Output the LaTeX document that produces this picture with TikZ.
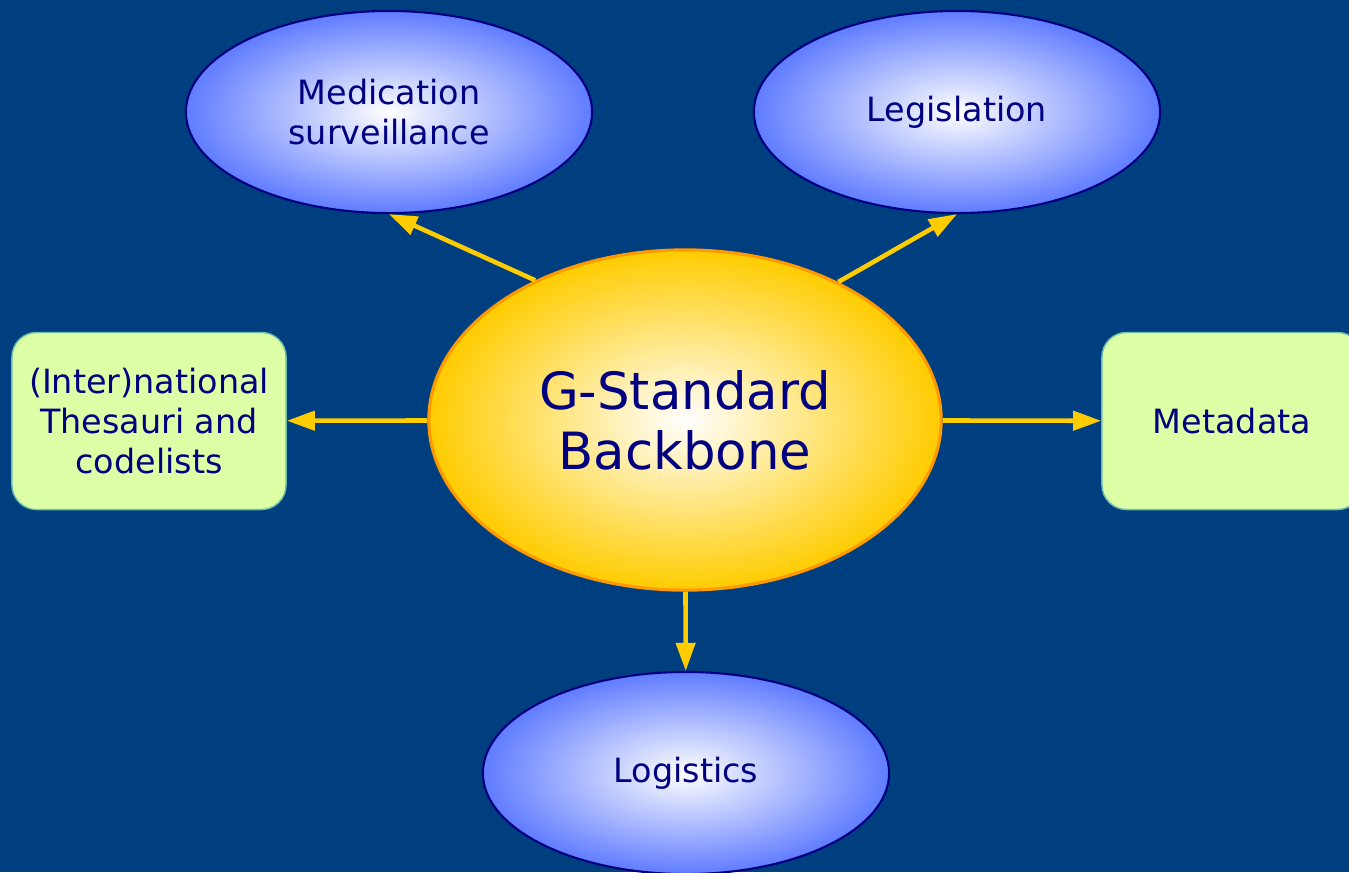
\documentclass[tikz,border=0pt]{standalone}
\usepackage{fontspec}
\setmainfont{DejaVu Sans}
\usetikzlibrary{arrows.meta,shapes.geometric}
\definecolor{bgblue}{RGB}{0,63,127}
\definecolor{txtblue}{RGB}{0,0,128}
\definecolor{gold}{RGB}{255,204,0}
\definecolor{rim}{RGB}{255,153,0}
\definecolor{skyblue}{RGB}{96,124,255}
\definecolor{lime}{RGB}{221,255,165}
\definecolor{limerim}{RGB}{110,190,170}
\begin{document}
\begin{tikzpicture}[x=0.01cm, y=-0.01cm, line join=round,
	>={Triangle[length=8pt,width=5.4pt]},
	font=\fontsize{9.5}{11.4}\selectfont, text=txtblue,
	core/.style={ellipse, draw=rim, line width=0.9pt, inner color=white, outer color=gold,
		minimum width=5.12cm, minimum height=3.40cm, align=center,
		font=\fontsize{14.6}{17}\selectfont},
	topic/.style={ellipse, draw=txtblue, line width=0.6pt, inner color=white, outer color=skyblue,
		minimum width=4.06cm, minimum height=2.02cm, align=center},
	side/.style={rectangle, rounded corners=7pt, draw=limerim, line width=0.4pt, fill=lime,
		minimum height=1.77cm, align=center},
	link/.style={->, draw=gold, line width=1.3pt}]
	\fill[bgblue] (0,0) rectangle (1349,872);
	\useasboundingbox (0,0) rectangle (1349,872);
	\path
	(685,420) node[core] (gsb) {G-Standard\\Backbone}
	(389,112) node[topic] (med) {Medication\\surveillance}
	(957,112) node[topic] (leg) {Legislation}
	(686,773) node[topic] (log) {Logistics}
	(149,421) node[side, minimum width=2.74cm] (thes) {(Inter)national\\Thesauri and\\codelists}
	(1232,421) node[side, minimum width=2.60cm] (meta) {Metadata};
	% pijlen vanuit de kern
	\draw[link] (gsb.137)--(med.south);
	\draw[link] (gsb.42)--(leg.south);
	\draw[link] (gsb)--(thes);
	\draw[link] (gsb)--(meta);
	\draw[link] (gsb)--(log);
\end{tikzpicture}
\end{document}
